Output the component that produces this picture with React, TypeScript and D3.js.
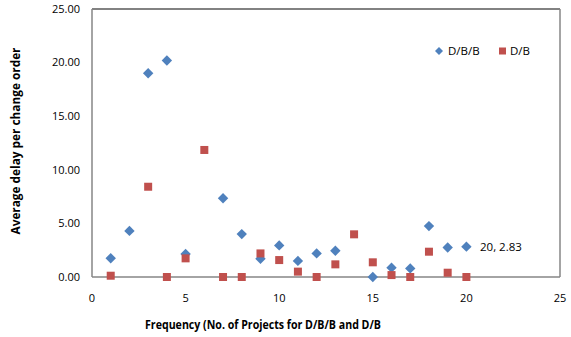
import React from "react";
import * as d3 from "d3";

const dbbX = [1, 2, 3, 4, 5, 7, 8, 9, 10, 11, 12, 13, 15, 16, 17, 18, 19, 20];
const dbbY = [1.75, 4.3, 19.0, 20.2, 2.15, 7.35, 4.0, 1.7, 2.95, 1.5, 2.2, 2.45, 0.0, 0.87, 0.8, 4.75, 2.75, 2.83];
const dbX = [1, 3, 4, 5, 6, 7, 8, 9, 10, 11, 12, 13, 14, 15, 16, 17, 18, 19, 20];
const dbY = [0.12, 8.42, 0.0, 1.74, 11.85, 0.0, 0.0, 2.2, 1.58, 0.5, 0.0, 1.18, 3.98, 1.37, 0.18, 0.0, 2.36, 0.4, 0.0];
const xTicks = [0, 5, 10, 15, 20, 25];
const yTicks = [0, 5, 10, 15, 20, 25];

const W = 571, H = 337;
const L = 92, R = 560, T = 9, B = 277;
const BLUE = "#4F81BD", RED = "#C0504D";
const FONT = "'Open Sans', 'Noto Sans', sans-serif";

export default function App() {
  const x = d3.scaleLinear().domain([0, 25]).range([L, R]);
  const y = d3.scaleLinear().domain([0, 25]).range([B, T]);
  const diamond = (cx: number, cy: number, r: number) =>
    `M${cx},${cy - r}L${cx + r},${cy}L${cx},${cy + r}L${cx - r},${cy}Z`;
  return (
    <svg width={W} height={H} style={{ position: "absolute", left: 0, top: 0 }} fontFamily={FONT}>
      <rect x={0} y={0} width={W} height={H} fill="#fff" />
      <line x1={L} x2={R} y1={T} y2={T} stroke="#595959" strokeWidth={1.5} />
      <line x1={R} x2={R} y1={T} y2={B} stroke="#868686" strokeWidth={1.5} />
      <line x1={L} x2={L} y1={T} y2={B} stroke="#868686" strokeWidth={1.5} />
      <line x1={L} x2={R} y1={B} y2={B} stroke="#868686" strokeWidth={1.5} />
      {yTicks.map((t) => (
        <text key={"y" + t} x={80} y={y(t)} dy="0.35em" textAnchor="end" fontSize={11} fill="#000">
          {t.toFixed(2)}
        </text>
      ))}
      {xTicks.map((t) => (
        <text key={"x" + t} x={x(t)} y={298} dy="0.35em" textAnchor="middle" fontSize={11} fill="#000">
          {t}
        </text>
      ))}
      {dbbX.map((v, i) => (
        <path key={"b" + i} d={diamond(x(v), y(dbbY[i]), 5.2)} fill={BLUE} />
      ))}
      {dbX.map((v, i) => (
        <rect key={"r" + i} x={x(v) - 4} y={y(dbY[i]) - 4} width={8} height={8} fill={RED} />
      ))}
      <text x={480} y={y(2.83)} dy="0.35em" fontSize={11.5} fill="#000">20, 2.83</text>
      <path d={diamond(439, 51, 4)} fill={BLUE} />
      <text x={448} y={51} dy="0.35em" fontSize={11.5} fill="#000">D/B/B</text>
      <rect x={499} y={47.5} width={7} height={7} fill={RED} />
      <text x={510} y={51} dy="0.35em" fontSize={11.5} fill="#000">D/B</text>
      <text x={263} y={325} dy="0.35em" textAnchor="middle" fontSize={11.5} fontWeight="bold" fill="#000"
        textLength={236} lengthAdjust="spacingAndGlyphs">
        Frequency (No. of Projects for D/B/B and D/B
      </text>
      <text transform={`translate(16,141) rotate(-90)`} dy="0.35em" textAnchor="middle" fontSize={11.5}
        fontWeight="bold" fill="#000" textLength={187} lengthAdjust="spacingAndGlyphs">
        Average delay per change order
      </text>
    </svg>
  );
}
